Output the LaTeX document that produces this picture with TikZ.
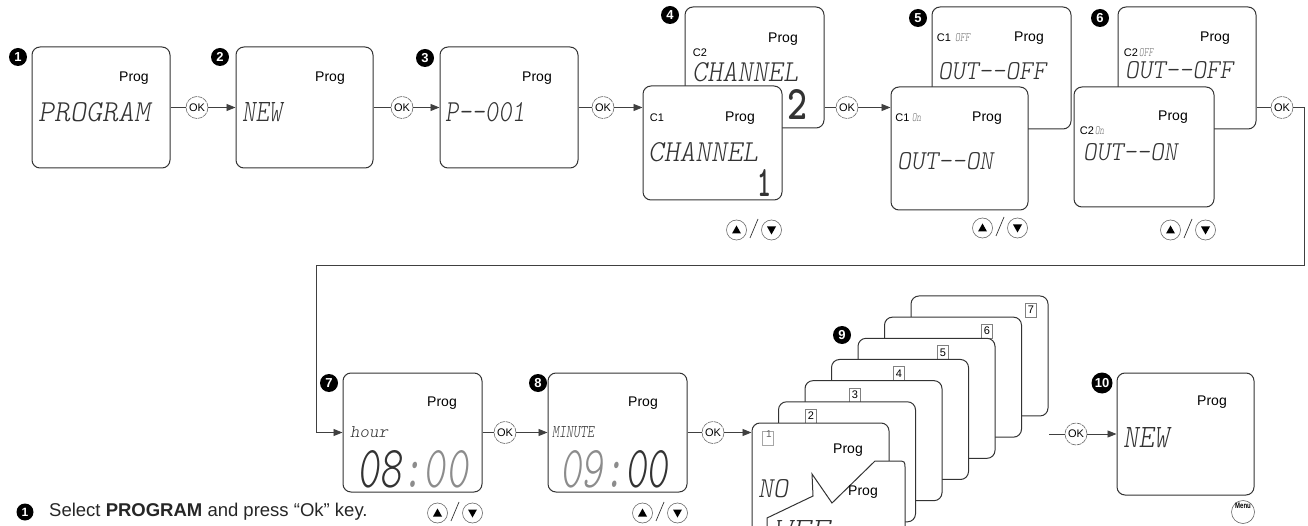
\documentclass[tikz,border=0pt]{standalone}
\usepackage{fontspec}
\setmainfont{Liberation Sans}
\usepackage{graphicx}
\usetikzlibrary{arrows.meta,calc}

\newcommand\lcdf{\ttfamily\fontseries{l}\fontshape{sl}\selectfont}
\newcommand\lcd[3]{\resizebox{#1pt}{#2pt}{\lcdf #3}}
\newcommand\lcdbig[3]{\resizebox{#1pt}{#2pt}{\ttfamily\bfseries #3}}

\tikzset{
  lcdbox/.style={draw=black!80, line width=1pt, rounded corners=8pt, fill=white, inner sep=0pt},
  okc/.style={circle, draw=black!60, line width=0.6pt, dash pattern=on 5pt off 0.8pt, minimum size=22pt, inner sep=0pt, font=\fontsize{11}{11}\selectfont, fill=white},
  badge/.style={circle, fill=black, text=white, minimum size=18pt, inner sep=0pt, font=\bfseries\fontsize{13}{13}\selectfont},
  conn/.style={draw=black!75, line width=0.8pt},
  arr/.style={conn, -{Triangle[length=9pt,width=7pt]}},
  prog/.style={font=\fontsize{14}{14}\selectfont, inner sep=0pt},
  chl/.style={font=\fontsize{11}{11}\selectfont, inner sep=0pt},
  lcdt/.style={anchor=south west, inner sep=0pt, text=black!80},
  btn/.style={circle, draw=black!60, line width=0.6pt, minimum size=20pt, inner sep=0pt},
  numlab/.style={draw=black!50, line width=0.5pt, inner sep=0pt, minimum width=11pt, minimum height=14pt, font=\fontsize{11}{11}\selectfont, fill=white},
}

\newcommand\updown[3]{%
  \begin{scope}[shift={(#2,#3)}]
    \node[btn] (#1u) at (-17.5,0) {};
    \node[btn] (#1d) at (17.5,0) {};
    \fill (-17.5,-4.5) -- ++(-4.5,8) -- ++(9,0) -- cycle;
    \fill (17.5,4.5) -- ++(-4.5,-8) -- ++(9,0) -- cycle;
    \draw[black!80, line width=0.7pt] (-4,8) -- (4,-11);
  \end{scope}}

\begin{document}
\begin{tikzpicture}[x=1pt,y=-1pt]
\useasboundingbox (0,0) rectangle (1308,526);

% ---------------- top row ----------------
\node[lcdbox, minimum width=138pt, minimum height=121pt] (b1) at (101,107.5) {};
\node[lcdbox, minimum width=137pt, minimum height=121pt] (b2) at (304.5,107.5) {};
\node[lcdbox, minimum width=138pt, minimum height=121pt] (b3) at (509,107.5) {};
\node[lcdbox, minimum width=139pt, minimum height=121pt] (b4b) at (754.5,67.5) {};
\node[lcdbox, minimum width=139pt, minimum height=114pt] (b4a) at (712.5,143) {};
\node[lcdbox, minimum width=139pt, minimum height=122pt] (b5b) at (1001.5,68) {};
\node[lcdbox, minimum width=137pt, minimum height=123pt] (b5a) at (959.5,148.5) {};
\node[lcdbox, minimum width=138pt, minimum height=122pt] (b6b) at (1187,68) {};
\node[lcdbox, minimum width=140pt, minimum height=120pt] (b6a) at (1144,147) {};

\node[badge] (n1) at (18,57) {1};
\node[badge] (n2) at (220,57) {2};
\node[badge] (n3) at (425,58) {3};
\node[badge] (n4) at (670,15) {4};
\node[badge] (n5) at (918,18) {5};
\node[badge] (n6) at (1100,18) {6};

% box 1-3
\node[prog] (p1) at (134,78) {Prog};
\node[lcdt] (t1) at (38,122) {\lcd{112}{19}{PROGRAM}};
\node[prog] (p2) at (330,78) {Prog};
\node[lcdt] (t2) at (242,122) {\lcd{40}{19}{NEW}};
\node[prog] (p3) at (537,78) {Prog};
\node[lcdt] (t3) at (445,122) {\lcd{80}{19}{P--001}};

% box 4
\node[prog] (p4b) at (783,39) {Prog};
\node[chl] (c4b) at (700,53) {C2};
\node[lcdt] (t4b) at (692,82) {\lcd{106}{19}{CHANNEL}};
\node[lcdt] (d4b) at (787,120) {\lcdbig{20}{30}{2}};
\node[prog] (p4a) at (740,118) {Prog};
\node[chl] (c4a) at (657,118) {C1};
\node[lcdt] (t4a) at (648,162) {\lcd{110}{19}{CHANNEL}};
\node[lcdt] (d4a) at (757,197) {\lcdbig{14}{27}{1}};

% box 5
\node[prog] (p5b) at (1029,38) {Prog};
\node[chl] (c5b) at (944,38) {C1};
\node[lcdt, text=black!55] (o5b) at (955,42) {\lcd{15}{8}{OFF}};
\node[lcdt] (t5b) at (938,80) {\lcd{108}{17}{OUT--OFF}};
\node[prog] (p5a) at (987,118) {Prog};
\node[chl] (c5a) at (902.5,118) {C1};
\node[lcdt, text=black!55] (o5a) at (912,122) {\lcd{9}{8}{On}};
\node[lcdt] (t5a) at (897,170) {\lcd{96}{17}{OUT--ON}};

% box 6
\node[prog] (p6b) at (1215,38) {Prog};
\node[chl] (c6b) at (1131,53) {C2};
\node[lcdt, text=black!55] (o6b) at (1139,57) {\lcd{14}{8}{OFF}};
\node[lcdt] (t6b) at (1125,79) {\lcd{108}{17}{OUT--OFF}};
\node[prog] (p6a) at (1173,117) {Prog};
\node[chl] (c6a) at (1087,131) {C2};
\node[lcdt, text=black!55] (o6a) at (1095,135) {\lcd{9}{8}{On}};
\node[lcdt] (t6a) at (1083,161) {\lcd{94}{17}{OUT--ON}};

\updown{ud4}{754}{230}
\updown{ud5}{1000}{228}
\updown{ud6}{1188}{230}

% OK circles top row
\node[okc] (ok1) at (197,107.5) {OK};
\node[okc] (ok2) at (402,107.5) {OK};
\node[okc] (ok3) at (603,107.5) {OK};
\node[okc] (ok4) at (847,107.5) {OK};
\node[okc] (ok5) at (1282,107.5) {OK};

\draw[conn] (b1) -- (ok1);
\draw[arr] (ok1) -- (b2);
\draw[conn] (b2) -- (ok2);
\draw[arr] (ok2) -- (b3);
\draw[conn] (b3) -- (ok3);
\draw[arr] (ok3) -- (b4a.west |- ok3);
\draw[conn] (b4b.east |- ok4) -- (ok4);
\draw[arr] (ok4) -- (b5a.west |- ok4);
\draw[conn] (b6b.east |- ok5) -- (ok5);

% ---------------- bottom row ----------------
\node[lcdbox, minimum width=139pt, minimum height=119pt] (b7) at (412.5,432.5) {};
\node[lcdbox, minimum width=139pt, minimum height=119pt] (b8) at (617.5,432.5) {};
\node[lcdbox, minimum width=137pt, minimum height=122pt] (b10) at (1185.5,434) {};

\coordinate (r1) at (1304,265);
\coordinate (r2) at (316,265);
\draw[arr] (ok5.east) -| (r1) -- (r2) |- (b7.west);

\node[badge] (n7) at (329,383) {7};
\node[badge] (n8) at (538,383) {8};
\node[badge] (n9) at (842,335) {9};
\node[badge, minimum size=21pt] (n10) at (1102,383) {10};

% box 7
\node[prog] (p7) at (442,403) {Prog};
\node[lcdt] (t7) at (350,438) {\lcd{38}{11}{hour}};
\node[lcdt] (d7) at (357,488) {\resizebox{111pt}{37pt}{\lcdf 08\textcolor{black!45}{:00}}};
% box 8
\node[prog] (p8) at (643,403) {Prog};
\node[lcdt] (t8) at (552,438) {\lcd{42}{11}{MINUTE}};
\node[lcdt] (d8) at (560,488) {\resizebox{108pt}{37pt}{\lcdf \textcolor{black!45}{09:}00}};

\updown{ud7}{455}{513}
\updown{ud8}{660}{513}

% card stack 9
\begin{scope}
\clip (0,0) rectangle (1308,526);
\foreach \k in {7,6,...,1}{
  \pgfmathsetmacro\cx{752+26.5*(\k-1)+68.5}
  \pgfmathsetmacro\cy{423-21.17*(\k-1)+60}
  \node[lcdbox, minimum width=137pt, minimum height=120pt] (card\k) at (\cx,\cy) {};
  \ifnum\k>1
    \node[numlab] (lab\k) at ({811+44*(\k-2)},{416-21.2*(\k-2)}) {\k};
  \fi
}
\draw[black!35, line width=0.5pt] (762,431) rectangle (773,445);
\node[font=\fontsize{10}{10}\selectfont, text=black!60, inner sep=0pt] (lab1) at (769,434) {1};
\node[prog] (p9) at (848,450) {Prog};
\node[lcdt] (t9) at (758,498) {\lcd{30}{18}{NO}};
\filldraw[fill=white, draw=black!80, line width=1pt]
  (767,545) -- (767,518) -- (813,496) -- (812,474) -- (832,503) -- (875,461)
  -- (897,461) .. controls (905,461) .. (905,469) -- (905,545);
\node[prog] (p9b) at (863,492) {Prog};
\node[anchor=north west, inner sep=0pt, text=black!80] (t9b) at (773,520) {\lcd{57}{18}{WEE}};
\end{scope}

% box 10
\node[prog] (p10) at (1212,402) {Prog};
\node[lcdt] (t10) at (1123,448) {\lcd{46}{20}{NEW}};
\node[btn, minimum size=23pt] (menu) at (1243,512) {};
\node[font=\bfseries\fontsize{8}{8}\selectfont, inner sep=0pt] (menut) at (1243,506) {\scalebox{0.75}[1]{Menu}};

% OK circles bottom row
\node[okc] (ok6) at (505,432.5) {OK};
\node[okc] (ok7) at (713,432.5) {OK};
\node[okc] (ok8) at (1076,434) {OK};
\coordinate (s10) at (1049,434);

\draw[conn] (b7) -- (ok6);
\draw[arr] (ok6) -- (b8);
\draw[conn] (b8) -- (ok7);
\draw[arr] (ok7) -- (card1.west |- ok7);
\draw[conn] (s10) -- (ok8);
\draw[arr] (ok8) -- (b10);

% caption
\node[badge, minimum size=17pt, font=\bfseries\fontsize{12}{12}\selectfont] (nc) at (25,512) {1};
\node[anchor=base west, inner sep=0pt, font=\fontsize{18.5}{18.5}\selectfont, text=black!85] (cap) at (49,516) {Select \textbf{PROGRAM} and press “Ok” key.};

\end{tikzpicture}
\end{document}
